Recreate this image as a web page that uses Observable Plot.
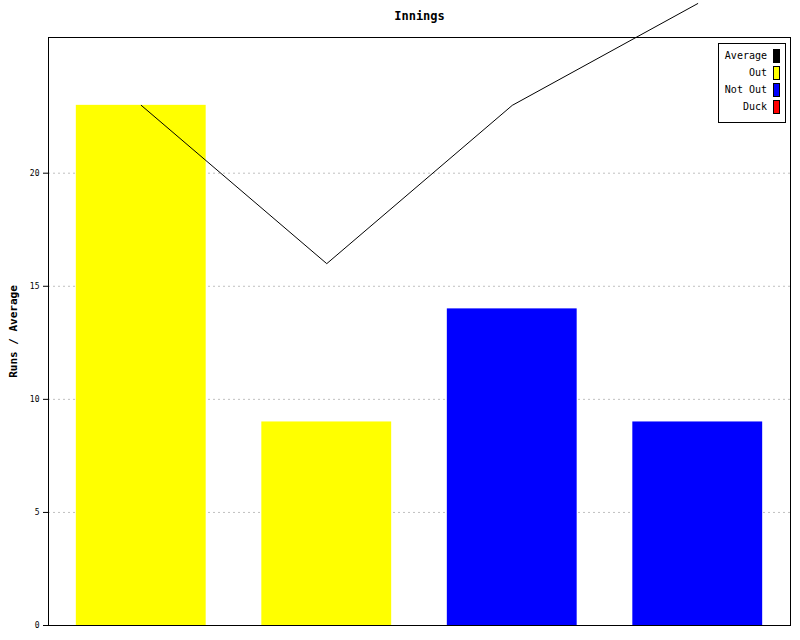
<!DOCTYPE html>
<html>
<head>
<meta charset="utf-8">
<script src="https://cdn.jsdelivr.net/npm/d3@7"></script>
<script src="https://cdn.jsdelivr.net/npm/@observablehq/plot@0.6"></script>
<style>
  body { margin: 0; background: #fff; }
  #chart { position: relative; width: 800px; height: 640px; font-family: "DejaVu Sans Mono", monospace; }
  #chart svg { overflow: visible; }
  #legend { position: absolute; left: 718px; top: 43px; width: 66px; height: 75px; border: 1px solid #000; background: #fff; padding-top: 3px; box-sizing: content-box; }
  .row { height: 17px; display: flex; justify-content: flex-end; align-items: center; padding-right: 5px; font-size: 10px; color: #000; }
  .row span.t { margin-right: 6px; white-space: pre; }
  .row span.s { display: inline-block; width: 5px; height: 12px; border: 1px solid #000; }
</style>
</head>
<body>
<div id="chart"></div>
<script>
const innings = ["1", "2", "3", "4"];
const runs = [23, 9, 14, 9];
const dismissal = ["Out", "Out", "Not Out", "Not Out"];
const average = [23, 16, 23, 27.5];
const yTicks = [0, 5, 10, 15, 20];
const legendLabels = ["Average", "Out", "Not Out", "Duck"];
const legendColors = ["#000000", "#ffff00", "#0000ff", "#ff0000"];
const title = "Innings";
const yLabel = "Runs / Average";

const data = innings.map((d, i) => ({inning: d, runs: runs[i], status: dismissal[i], avg: average[i]}));

const plot = Plot.plot({
  width: 800,
  height: 640,
  marginTop: 37,
  marginLeft: 48,
  marginRight: 10,
  marginBottom: 15,
  style: {fontFamily: "DejaVu Sans Mono, monospace", fontSize: "8px", background: "#fff", color: "#000"},
  x: {type: "band", domain: innings, paddingInner: 0.3, paddingOuter: 0.15, round: false, axis: null},
  y: {domain: [0, 26], ticks: yTicks, tickSize: 5, tickPadding: 4, label: null},
  color: {domain: legendLabels, range: legendColors},
  marks: [
    Plot.ruleY(yTicks.filter(d => d > 0), {stroke: "#c0c0c0", strokeDasharray: "2,3", strokeDashoffset: -5}),
    Plot.barY(data, {x: "inning", y: "runs", fill: "status"}),
    Plot.lineY(data, {x: "inning", y: "avg", stroke: "#000", strokeWidth: 1}),
    Plot.frame({stroke: "#000", strokeWidth: 1}),
    Plot.text([title], {frameAnchor: "top", dy: -21, lineAnchor: "middle", fontWeight: "bold", fontSize: 12, fill: "#000"}),
    Plot.text([yLabel], {frameAnchor: "left", dx: -35, rotate: -90, textAnchor: "middle", lineAnchor: "middle", fontWeight: "bold", fontSize: 11, fill: "#000"})
  ]
});
document.getElementById("chart").appendChild(plot);

const legend = document.createElement("div");
legend.id = "legend";
legendLabels.forEach((lab, i) => {
  const row = document.createElement("div");
  row.className = "row";
  const t = document.createElement("span");
  t.className = "t";
  t.textContent = lab;
  const s = document.createElement("span");
  s.className = "s";
  s.style.background = legendColors[i];
  row.appendChild(t);
  row.appendChild(s);
  legend.appendChild(row);
});
document.getElementById("chart").appendChild(legend);
</script>
</body>
</html>
